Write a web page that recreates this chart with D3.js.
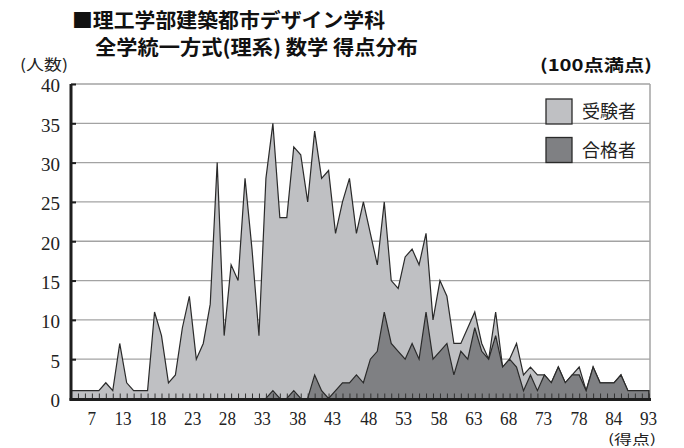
<!DOCTYPE html>
<html><head><meta charset="utf-8">
<script src="https://cdn.jsdelivr.net/npm/d3@7/dist/d3.min.js"></script>
<style>body{margin:0;background:#fff}</style>
</head><body><svg id="c" width="684" height="448"></svg>
<script>
// 受験者 (applicants) per score category, left to right
const applicants = [
  1,1,1,1,1,2,1,7,2,1,
  1,1,11,8,2,3,9,13,5,7,
  12,30,8,17,15,28,19,8,28,35,
  23,23,32,31,25,34,28,29,21,25,
  28,21,25,21,17,25,15,14,18,19,
  17,21,10,15,13,7,7,9,11,7,
  5,11,4,5,7,3,4,3,3,2,
  4,2,3,4,1,4,2,2,2,3,
  1,1,1,1
];
// 合格者 (passers)
const passers = [
  0,0,0,0,0,0,0,0,0,0,
  0,0,0,0,0,0,0,0,0,0,
  0,0,0,0,0,0,0,0,0,1,
  0,0,1,0,0,3,1,0,1,2,
  2,3,2,5,6,11,7,6,5,7,
  5,11,5,6,7,3,6,5,9,6,
  5,8,4,5,4,1,3,1,3,2,
  4,2,3,3,1,4,2,2,2,3,
  1,1,1,1
];
const yTicks = [0,5,10,15,20,25,30,35,40];
const xLabels = ["7","13","18","23","28","33","38","43","48","53","58","63","68","73","78","84","93"];
const xLabelAt = [2.9,7.4,12.4,17.4,22.4,27.4,32.5,37.5,42.7,47.7,52.8,57.8,62.8,67.8,72.9,77.9,82.9];
const seriesNames = ["受験者","合格者"];
const titleLines = ["■理工学部建築都市デザイン学科","全学統一方式(理系) 数学 得点分布"];
const yUnit = "(人数)", xUnit = "(得点)", fullMark = "(100点満点)";

const svg = d3.select("#c");
const L = 71, R = 650, T = 84, B = 398.5;
const x = d3.scaleLinear().domain([0, applicants.length - 1]).range([L, 648.8]);
const y = d3.scaleLinear().domain([0, 40]).range([B, T]);
const serif = "'Liberation Serif','DejaVu Serif',serif";
const cjk = "'Noto Sans CJK JP','Noto Sans',sans-serif";

// gridlines
svg.append("g").selectAll("line").data(yTicks.filter(d => d > 0)).join("line")
  .attr("x1", L).attr("x2", R).attr("y1", d => y(d)).attr("y2", d => y(d))
  .attr("stroke", "#a3a3a3").attr("stroke-width", 1.3);
// right border
svg.append("line").attr("x1", R).attr("x2", R).attr("y1", T).attr("y2", B)
  .attr("stroke", "#a3a3a3").attr("stroke-width", 1.5);

const area = d3.area().x((d, i) => x(i)).y0(y(0)).y1(d => y(d));
svg.append("path").datum(applicants).attr("d", area)
  .attr("fill", "#bfc0c3").attr("stroke", "#2a2a2a").attr("stroke-width", 1.2);
svg.append("path").datum(passers).attr("d", area)
  .attr("fill", "#7f8083").attr("stroke", "#2a2a2a").attr("stroke-width", 1.2);

// minor ticks on bottom axis
const xMinor = svg.append("g").attr("transform", `translate(0,${B})`)
  .call(d3.axisBottom(x).tickValues(d3.range(applicants.length)).tickSize(-5).tickFormat(""));
xMinor.select(".domain").remove();
xMinor.selectAll(".tick line").attr("stroke", "#333").attr("stroke-width", 1);
// bottom axis line
svg.append("line").attr("x1", L - 1.5).attr("x2", R + 1).attr("y1", B + 1).attr("y2", B + 1)
  .attr("stroke", "#1e1e1e").attr("stroke-width", 3);

// x labels
const xAx = svg.append("g").attr("transform", `translate(0,${B})`)
  .call(d3.axisBottom(x).tickValues(xLabelAt).tickSize(0).tickPadding(0)
    .tickFormat((d, i) => xLabels[i]));
xAx.select(".domain").remove();
xAx.selectAll("text").attr("font-family", serif).attr("font-size", 18.5)
  .attr("fill", "#222").attr("x", 0).attr("y", 27).attr("dy", 0)
  .attr("transform", "scale(0.93,1)");

// y axis
const yAx = svg.append("g").attr("transform", `translate(${L},0)`)
  .call(d3.axisLeft(y).tickValues(yTicks).tickSize(-5).tickPadding(11));
yAx.select(".domain").attr("stroke", "#1e1e1e").attr("stroke-width", 3)
  .attr("d", `M0,${T}V${B + 2}`);
yAx.selectAll(".tick line").attr("stroke", "#1e1e1e").attr("stroke-width", 2);
yAx.selectAll("text").attr("font-family", serif).attr("font-size", 19)
  .attr("fill", "#222").attr("dy", "0.42em");

// titles
svg.append("text").attr("x", 72).attr("y", 28).text(titleLines[0])
  .attr("font-family", cjk).attr("font-weight", 700).attr("font-size", 20)
  .attr("textLength", 313).attr("lengthAdjust", "spacingAndGlyphs").attr("fill", "#111");
svg.append("text").attr("x", 95).attr("y", 55).text(titleLines[1])
  .attr("font-family", cjk).attr("font-weight", 700).attr("font-size", 20)
  .attr("textLength", 323).attr("lengthAdjust", "spacingAndGlyphs").attr("fill", "#111");
svg.append("text").attr("x", 20).attr("y", 70).text(yUnit)
  .attr("font-family", cjk).attr("font-size", 15).attr("fill", "#222")
  .attr("textLength", 48).attr("lengthAdjust", "spacingAndGlyphs");
svg.append("text").attr("x", 540).attr("y", 71).text(fullMark)
  .attr("font-family", cjk).attr("font-weight", 700).attr("font-size", 16).attr("fill", "#111")
  .attr("textLength", 112).attr("lengthAdjust", "spacingAndGlyphs");
svg.append("text").attr("x", 608).attr("y", 443.5).text(xUnit)
  .attr("font-family", cjk).attr("font-size", 13).attr("fill", "#222")
  .attr("textLength", 48).attr("lengthAdjust", "spacingAndGlyphs");

// legend
const fills = ["#bfc0c3", "#7f8083"];
const lg = svg.append("g").selectAll("g").data(seriesNames).join("g")
  .attr("transform", (d, i) => `translate(546,${99 + i * 38.5})`);
lg.append("rect").attr("width", 26).attr("height", 25)
  .attr("fill", (d, i) => fills[i]).attr("stroke", "#2a2a2a").attr("stroke-width", 1.3);
lg.append("text").attr("x", 36).attr("y", 19).text(d => d)
  .attr("font-family", cjk).attr("font-size", 18).attr("fill", "#222")
  .attr("textLength", 54).attr("lengthAdjust", "spacingAndGlyphs");
</script></body></html>
